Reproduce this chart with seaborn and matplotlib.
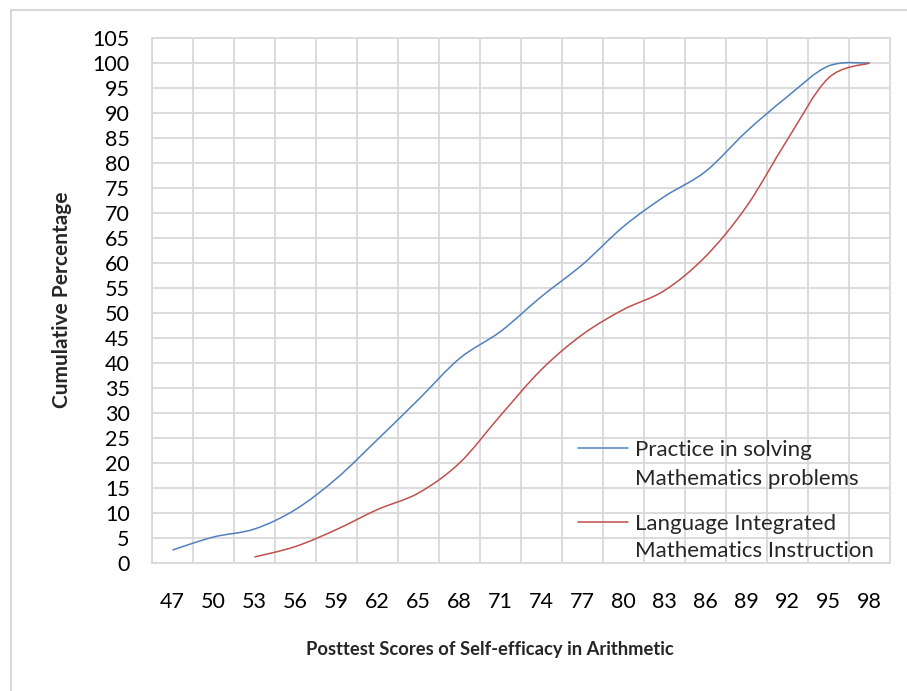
import numpy as np
import matplotlib
matplotlib.use("Agg")
import matplotlib.pyplot as plt
from matplotlib.path import Path
from matplotlib.patches import PathPatch, Rectangle
from matplotlib.lines import Line2D
import seaborn as sns

scores = [47, 50, 53, 56, 59, 62, 65, 68, 71, 74, 77, 80, 83, 86, 89, 92, 95, 98]

practice = [2.6, 5.2, 6.8, 10.7, 16.9, 24.7, 32.7, 40.9, 46.3, 53.3,
            59.7, 67.3, 73.3, 78.3, 86.3, 93.3, 99.4, 100]

# red series starts at score 53
language_scores = [53, 56, 59, 62, 65, 68, 71, 74, 77, 80, 83, 86, 89, 92, 95, 98]
language = [1.2, 3.3, 6.7, 10.7, 14.0, 20.0, 29.5, 38.7, 45.7, 50.7,
            54.5, 61.3, 71.3, 84.7, 97.0, 100]

series_names = [["Practice in solving", "Mathematics problems"],
                ["Language Integrated", "Mathematics Instruction"]]
series_colors = ["#4F81BD", "#C0504D"]

sns.set_theme(style="whitegrid")
plt.rcParams['font.family'] = ['Lato', 'DejaVu Sans']

W, H = 907, 691
fig = plt.figure(figsize=(W / 100, H / 100), dpi=100)
ax = fig.add_axes([152 / W, 1 - 563 / H, (890 - 152) / W, (563 - 38) / H])


def smooth_path(xs, ys):
    # Catmull-Rom through the points, as cubic Bezier segments
    pts = np.column_stack([xs, ys]).astype(float)
    verts = [pts[0]]
    codes = [Path.MOVETO]
    n = len(pts)
    for i in range(n - 1):
        p0 = pts[i - 1] if i > 0 else pts[i]
        p1 = pts[i]
        p2 = pts[i + 1]
        p3 = pts[i + 2] if i + 2 < n else pts[i + 1]
        c1 = p1 + (p2 - p0) / 6.0
        c2 = p2 - (p3 - p1) / 6.0
        verts += [c1, c2, p2]
        codes += [Path.CURVE4] * 3
    return Path(verts, codes)


idx = {s: i for i, s in enumerate(scores)}
for xs_raw, ys, col in [(scores, practice, series_colors[0]),
                        (language_scores, language, series_colors[1])]:
    xs = [idx[s] for s in xs_raw]
    ax.add_patch(PathPatch(smooth_path(xs, ys), facecolor="none",
                           edgecolor=col, lw=1.1, zorder=3))

ax.set_xlim(-0.5, len(scores) - 0.5)
ax.set_ylim(0, 105)
ax.set_yticks(np.arange(0, 106, 5))
ax.set_xticks(range(len(scores)))
ax.set_xticklabels([str(s) for s in scores])
ax.set_xticks(np.arange(-0.5, len(scores), 1), minor=True)

grid_col = "#D9D9D9"
ax.grid(False)
ax.grid(axis="y", which="major", color=grid_col, lw=1.3)
ax.grid(axis="x", which="minor", color=grid_col, lw=1.3)
ax.set_facecolor("white")
for sp in ax.spines.values():
    sp.set_color(grid_col)
    sp.set_linewidth(1.3)

ax.tick_params(axis="both", which="both", length=0, labelsize=15.5, colors="black")
ax.tick_params(axis="y", pad=16)
ax.tick_params(axis="x", pad=21)

# Excel puts the legend line next to the first line of each label,
# so each series gets its own small legend
legend_tops = [440, 514]
legend_gaps = [0.4, 0.32]
for k in range(2):
    hs = [Line2D([], [], color=series_colors[k], lw=1.1),
          Line2D([], [], color="none")]
    leg = ax.legend(hs, series_names[k], loc="upper left",
                    bbox_to_anchor=(578 / W, 1 - legend_tops[k] / H),
                    bbox_transform=fig.transFigure, frameon=False, fontsize=16,
                    handlelength=2.25, handletextpad=0.32,
                    labelspacing=legend_gaps[k], borderpad=0, borderaxespad=0)
    if k == 0:
        ax.add_artist(leg)

fig.text(490 / W, 1 - 649 / H, "Posttest Scores of Self-efficacy in Arithmetic",
         ha="center", va="center", fontsize=13.2, fontweight="bold")
fig.text(62 / W, 1 - 300 / H, "Cumulative Percentage", rotation=90,
         ha="center", va="center", fontsize=15, fontweight="bold")

fig.patches.append(Rectangle((11 / W, -0.1), 1.2, 1 - 10 / H + 0.1,
                             transform=fig.transFigure, fill=False,
                             edgecolor=grid_col, lw=1.5))

fig.savefig("out.png", dpi=100, facecolor="white")
